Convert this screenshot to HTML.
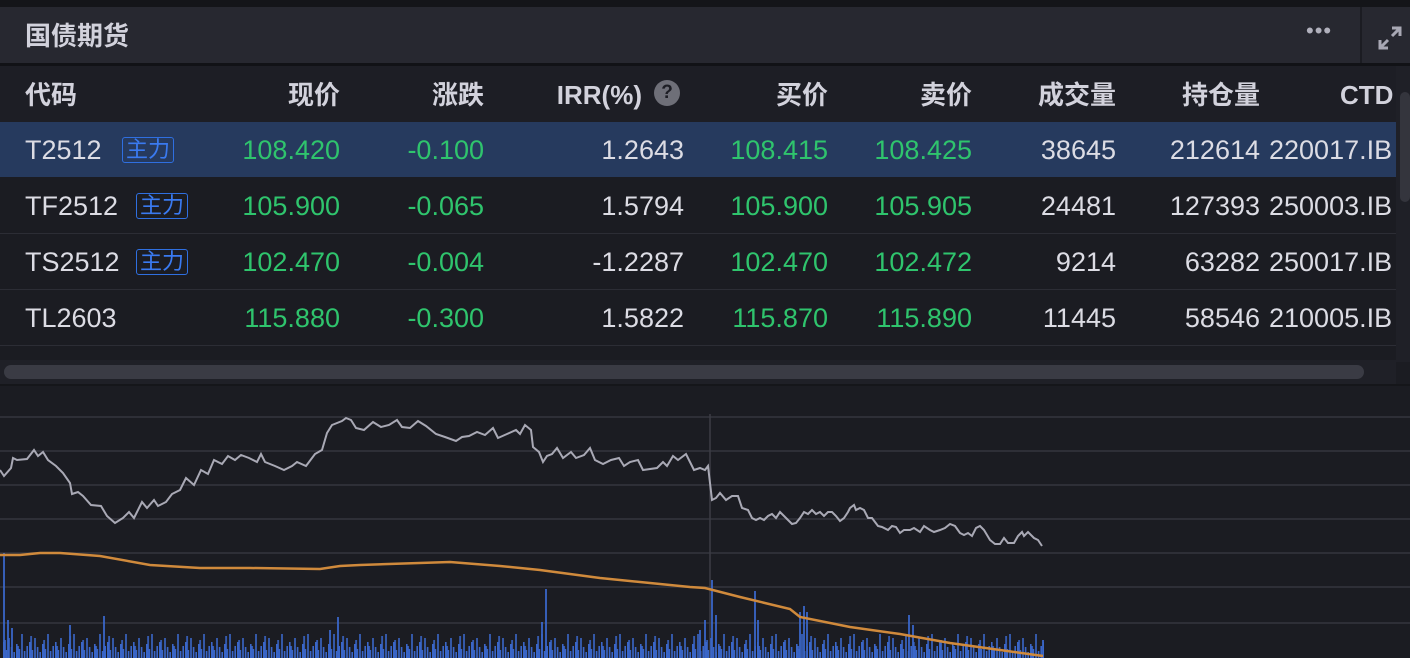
<!DOCTYPE html>
<html><head><meta charset="utf-8"><style>
*{margin:0;padding:0;box-sizing:border-box}
body{width:1410px;height:658px;background:#1b1c22;overflow:hidden;position:relative;font-family:"Liberation Sans","Noto Sans CJK SC",sans-serif;color:#dcdce4}
.a{position:absolute;white-space:nowrap}
.t{font-size:27px;line-height:30px}
.r{text-align:right}
.g{color:#2fc46d}
.h{font-weight:bold;color:#d2d2dc;font-size:26px;line-height:30px}
.tag{position:absolute;border:1.5px solid #2f6fe0;color:#3a7af0;font-size:22px;line-height:24px;padding:0 3px;border-radius:3px}
</style></head><body>
<div class="a" style="left:0;top:0;width:1410px;height:7px;background:#141519"></div>
<div class="a" style="left:0;top:7px;width:1410px;height:56px;background:#272830"></div>
<div class="a" style="left:1360px;top:7px;width:2px;height:56px;background:#1b1c22"></div>
<div class="a h" style="left:25px;top:21px">国债期货</div>
<div class="a" style="left:1306px;top:18px;font-size:22px;color:#b0b0bc;letter-spacing:1px">•••</div>
<svg class="a" style="left:1374px;top:22px" width="32" height="32" viewBox="0 0 32 32"><g stroke="#a8a8b4" stroke-width="3" fill="none"><path d="M6 26L14 18M6 18V26H14M26 6L18 14M18 6H26V14"/></g></svg>
<div class="a" style="left:0;top:63px;width:1410px;height:3px;background:#111216"></div>
<div class="a" style="left:0;top:66px;width:1396px;height:56px;background:#1d1e25"></div>
<div class="a" style="left:0;top:122px;width:1396px;height:55px;background:#263a5e"></div>
<div class="a" style="left:0;top:177px;width:1396px;height:169px;background:#1b1c22"></div>
<div class="a" style="left:0;top:233px;width:1396px;height:1px;background:#2c2d35"></div>
<div class="a" style="left:0;top:289px;width:1396px;height:1px;background:#2c2d35"></div>
<div class="a" style="left:0;top:345px;width:1396px;height:1px;background:#2c2d35"></div>
<div class="a" style="left:1396px;top:66px;width:14px;height:296px;background:#1f2027"></div>
<div class="a" style="left:1400px;top:92px;width:10px;height:110px;background:#34353d;border-radius:5px"></div>
<div class="a" style="left:0;top:360px;width:1396px;height:24px;background:#1f2027"></div>
<div class="a" style="left:4px;top:365px;width:1360px;height:14px;background:#3a3b44;border-radius:7px"></div>
<div class="a" style="left:0;top:384px;width:1410px;height:2px;background:#15161a"></div>
<div class="a" style="left:0;top:66px;width:1396px;height:280px;overflow:hidden">
<div class="a h" style="left:25px;top:14px">代码</div>
<div class="a h r" style="right:1056px;top:14px">现价</div>
<div class="a h r" style="right:912px;top:14px">涨跌</div>
<div class="a h r" style="right:754px;top:14px">IRR(%)</div>
<div class="a" style="left:654px;top:14px;width:26px;height:26px;border-radius:13px;background:#6e6f78;color:#1d1e25;font-weight:bold;font-size:19px;text-align:center;line-height:26px">?</div>
<div class="a h r" style="right:568px;top:14px">买价</div>
<div class="a h r" style="right:424px;top:14px">卖价</div>
<div class="a h r" style="right:280px;top:14px">成交量</div>
<div class="a h r" style="right:136px;top:14px">持仓量</div>
<div class="a h" style="left:1340px;top:14px">CTD</div>

<div class="a t" style="left:25px;top:69px">T2512</div><div class="tag" style="left:122px;top:71px">主力</div>
<div class="a t" style="left:25px;top:125px">TF2512</div><div class="tag" style="left:136px;top:127px">主力</div>
<div class="a t" style="left:25px;top:181px">TS2512</div><div class="tag" style="left:136px;top:183px">主力</div>
<div class="a t" style="left:25px;top:237px">TL2603</div>

<div class="a t r g" style="right:1056px;top:69px">108.420</div>
<div class="a t r g" style="right:1056px;top:125px">105.900</div>
<div class="a t r g" style="right:1056px;top:181px">102.470</div>
<div class="a t r g" style="right:1056px;top:237px">115.880</div>
<div class="a t r g" style="right:912px;top:69px">-0.100</div>
<div class="a t r g" style="right:912px;top:125px">-0.065</div>
<div class="a t r g" style="right:912px;top:181px">-0.004</div>
<div class="a t r g" style="right:912px;top:237px">-0.300</div>
<div class="a t r" style="right:712px;top:69px">1.2643</div>
<div class="a t r" style="right:712px;top:125px">1.5794</div>
<div class="a t r" style="right:712px;top:181px">-1.2287</div>
<div class="a t r" style="right:712px;top:237px">1.5822</div>
<div class="a t r g" style="right:568px;top:69px">108.415</div>
<div class="a t r g" style="right:568px;top:125px">105.900</div>
<div class="a t r g" style="right:568px;top:181px">102.470</div>
<div class="a t r g" style="right:568px;top:237px">115.870</div>
<div class="a t r g" style="right:424px;top:69px">108.425</div>
<div class="a t r g" style="right:424px;top:125px">105.905</div>
<div class="a t r g" style="right:424px;top:181px">102.472</div>
<div class="a t r g" style="right:424px;top:237px">115.890</div>
<div class="a t r" style="right:280px;top:69px">38645</div>
<div class="a t r" style="right:280px;top:125px">24481</div>
<div class="a t r" style="right:280px;top:181px">9214</div>
<div class="a t r" style="right:280px;top:237px">11445</div>
<div class="a t r" style="right:136px;top:69px">212614</div>
<div class="a t r" style="right:136px;top:125px">127393</div>
<div class="a t r" style="right:136px;top:181px">63282</div>
<div class="a t r" style="right:136px;top:237px">58546</div>
<div class="a t" style="left:1269px;top:69px">220017.IB</div>
<div class="a t" style="left:1269px;top:125px">250003.IB</div>
<div class="a t" style="left:1269px;top:181px">250017.IB</div>
<div class="a t" style="left:1269px;top:237px">210005.IB</div>
</div>

<svg class="a" style="left:0;top:0" width="1410" height="658">
<defs>
<pattern id="p1" patternUnits="userSpaceOnUse" x="3" y="620" width="26" height="38">
<g fill="#3a66c8">
<rect x="0" y="22" width="1.6" height="16"/><rect x="2.6" y="30" width="1.6" height="8"/>
<rect x="5.2" y="18" width="1.6" height="20"/><rect x="7.8" y="27" width="1.6" height="11"/>
<rect x="10.4" y="32" width="1.6" height="6"/><rect x="13" y="24" width="1.6" height="14"/>
<rect x="15.6" y="29" width="1.6" height="9"/><rect x="18.2" y="14" width="1.6" height="24"/>
<rect x="20.8" y="31" width="1.6" height="7"/><rect x="23.4" y="26" width="1.6" height="12"/>
</g></pattern>
<pattern id="p2" patternUnits="userSpaceOnUse" x="4.3" y="610" width="39" height="48">
<g fill="#3a66c8">
<rect x="0" y="30" width="1.6" height="18"/><rect x="13" y="36" width="1.6" height="12"/>
<rect x="26" y="26" width="1.6" height="22"/>
</g></pattern>
</defs>
<g stroke="#2e2f37" stroke-width="2">
<line x1="0" y1="417" x2="1410" y2="417"/><line x1="0" y1="451" x2="1410" y2="451"/>
<line x1="0" y1="485" x2="1410" y2="485"/><line x1="0" y1="519" x2="1410" y2="519"/>
<line x1="0" y1="553" x2="1410" y2="553"/><line x1="0" y1="587" x2="1410" y2="587"/>
<line x1="0" y1="623" x2="1410" y2="623"/>
</g>
<line x1="710" y1="414" x2="710" y2="658" stroke="#3c3d45" stroke-width="1.5"/>
<rect x="3" y="620" width="1041" height="38" fill="url(#p1)"/>
<rect x="3" y="610" width="1041" height="48" fill="url(#p2)"/>
<path stroke="#3a66c8" stroke-width="1.8" fill="none" d="M4 658V553 M8 658V620 M12 658V628 M70 658V625 M104 658V616 M338 658V617 M330 658V630 M546 658V589 M542 658V622 M700 658V630 M705 658V620 M712 658V580 M716 658V615 M755 658V591 M758 658V620 M800 658V612 M804 658V606 M807 658V612 M909 658V615 M913 658V625 M1043 658V640"/>
<polyline fill="none" stroke="#d08a3c" stroke-width="2.5" points="0,555 20,555 40,553 60,553 100,556 150,565 200,568 250,568 320,569 340,566 360,565 450,562 500,566 540,570 600,578 650,583 690,587 705,588 740,597 790,609 800,617 850,627 900,634 950,643 1000,650 1043,656"/>
<polyline fill="none" stroke="#a9a9b5" stroke-width="2" points="0,470 4,476 11,468 13,458 17,460 27,459 34,450 38,456 43,452 48,460 56,466 63,473 70,483 72,494 78,492 83,496 91,505 101,506 107,516 115,523 123,518 129,512 134,518 142,502 147,508 154,500 158,506 166,502 172,494 180,490 186,478 194,485 201,470 208,474 214,460 222,464 228,456 235,460 241,455 249,458 257,462 261,454 265,462 275,466 284,470 292,466 297,462 306,466 315,454 322,450 327,433 332,425 342,421 346,418 351,420 356,428 364,430 373,422 381,427 389,425 397,420 402,427 410,428 418,421 426,426 436,434 445,437 456,441 462,437 469,436 477,432 485,435 493,428 498,438 507,434 516,430 520,434 525,425 531,430 533,447 539,452 543,462 547,456 552,454 557,448 563,458 571,452 576,458 584,455 590,448 595,460 603,464 611,460 619,458 624,466 630,462 638,460 643,470 657,468 663,462 667,466 673,456 678,460 686,454 694,470 700,468 705,470 708,466 712,500 716,498 720,493 726,500 732,496 738,496 742,508 748,510 752,518 756,520 760,518 764,520 768,516 772,514 776,518 780,512 784,516 788,520 792,524 796,523 800,518 804,512 808,514 812,510 816,514 820,512 824,516 828,512 832,512 836,516 840,521 844,518 848,512 850,508 854,505 856,510 860,508 864,510 868,518 872,518 878,526 882,527 888,530 892,526 896,527 900,533 904,530 910,530 914,528 920,532 924,526 930,530 934,532 940,530 945,528 950,524 955,526 960,533 964,535 968,533 972,536 976,528 980,526 984,530 990,540 995,544 1000,544 1004,538 1008,543 1014,543 1018,536 1022,532 1024,536 1028,532 1034,538 1038,540 1042,546"/>
</svg>
</body></html>
